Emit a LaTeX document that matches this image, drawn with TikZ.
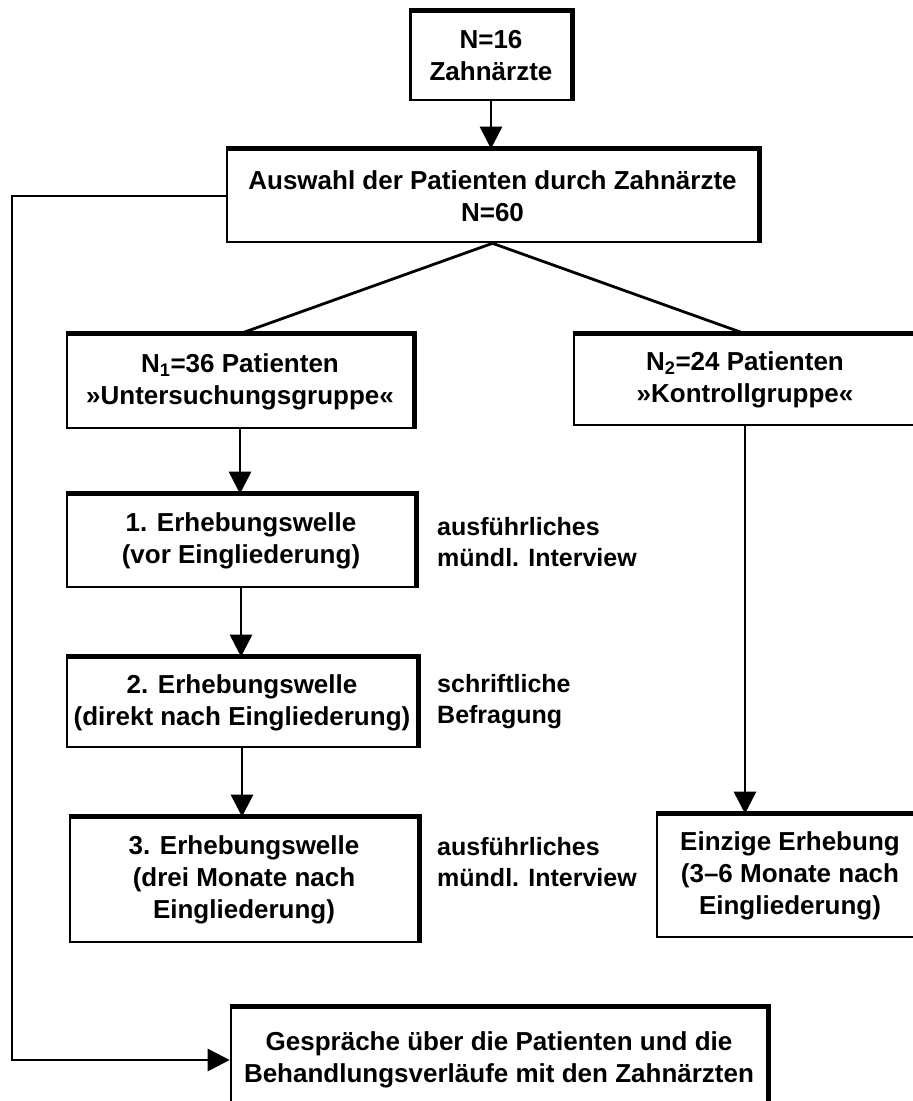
\documentclass[tikz,border=0pt]{standalone}
\usepackage{fontspec}
\setmainfont{Liberation Sans}
\usepackage{tikz}
\usetikzlibrary{arrows.meta, positioning}

\begin{document}
\begin{tikzpicture}[x=1pt, y=-1pt,
    box/.style={draw, line width=2.6pt, align=center, inner sep=0pt,
      font=\bfseries\fontsize{26}{32}\selectfont},
    note/.style={anchor=west, align=left, inner sep=0pt,
      font=\bfseries\fontsize{25}{31}\selectfont},
    conn/.style={line width=2.8pt},
    arr/.style={conn, -{Triangle[length=22pt,width=22pt]}}]
  \path[use as bounding box, clip] (0,0) rectangle (913,1101);
  % boxes
  \node[box, minimum width=161, minimum height=88] (zahn) at (491,56) {N=16\\Zahnärzte};
  \node[box, minimum width=531, minimum height=92] (auswahl) at (492.5,196) {Auswahl der Patienten durch Zahnärzte\\N=60};
  \node[box, minimum width=346, minimum height=93] (grpU) at (240,381.5) {N\textsubscript{1}=36 Patienten\\»Untersuchungsgruppe«};
  \node[box, minimum width=342, minimum height=90] (grpK) at (745,380) {N\textsubscript{2}=24 Patienten\\»Kontrollgruppe«};
  \node[box, minimum width=348, minimum height=92] (welle1) at (241,541) {1. Erhebungswelle\\(vor Eingliederung)};
  \node[box, minimum width=350, minimum height=89] (welle2) at (242,702.5) {2. Erhebungswelle\\(direkt nach Eingliederung)};
  \node[box, minimum width=348, minimum height=124] (welle3) at (244,880) {3. Erhebungswelle\\(drei Monate nach\\Eingliederung)};
  \node[box, minimum width=266, minimum height=122] (einzig) at (790,876) {Einzige Erhebung\\(3–6 Monate nach\\Eingliederung)};
  \node[box, minimum width=536, minimum height=104] (gespr) at (499,1060) {Gespräche über die Patienten und die\\Behandlungsverläufe mit den Zahnärzten};
  % thick top and right edges
  \foreach \n in {zahn, auswahl, grpU, grpK, welle1, welle2, welle3, einzig, gespr}
    \draw[line width=4.5pt] (\n.north west) -- (\n.north east) -- (\n.south east);
  % notes
  \node[note] (note1) at (437,542) {ausführliches\\mündl. Interview};
  \node[note] (note2) at (437,702) {schriftliche\\Befragung};
  \node[note] (note3) at (437,862) {ausführliches\\mündl. Interview};
  % connectors
  \coordinate (fb) at (12,1060);
  \draw[arr] (zahn.south) -- (zahn.south |- auswahl.north);
  \draw[conn] (auswahl.south) -- (grpU.north);
  \draw[conn] (auswahl.south) -- (grpK.north);
  \draw[arr] (grpU.south) -- (grpU.south |- welle1.north);
  \draw[arr] (welle1.south) -- (welle1.south |- welle2.north);
  \draw[arr] (welle2.south) -- (welle2.south |- welle3.north);
  \draw[arr] (grpK.south) -- (grpK.south |- einzig.north);
  \draw[arr] (auswahl.west) -| (fb) -- (gespr.west);
\end{tikzpicture}
\end{document}
